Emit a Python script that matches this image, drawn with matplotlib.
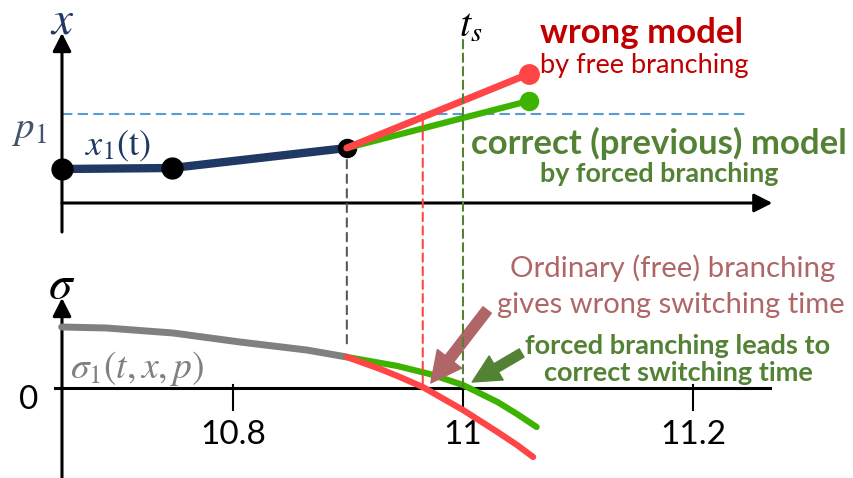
import matplotlib
matplotlib.use("Agg")
import matplotlib.pyplot as plt
from matplotlib.patches import ConnectionPatch

plt.rcParams['font.family'] = ['Lato', 'DejaVu Sans']
plt.rcParams['mathtext.fontset'] = 'stix'

# state x1(t) before the switch, and the two branches after it
t_x1 = [10.651, 10.747, 10.899]
x1 = [0.34, 0.35, 0.55]
t_branch = [10.899, 11.057]
x_wrong = [0.55, 1.29]
x_correct = [0.55, 1.02]
p1 = 0.89

# switching function sigma1 and its two continuations
t_sig = [10.651, 10.690, 10.748, 10.806, 10.864, 10.899]
sig1 = [0.61, 0.60, 0.55, 0.46, 0.38, 0.31]
t_sig_correct = [10.899, 10.943, 10.971, 11.000, 11.030, 11.047, 11.064]
sig_correct = [0.31, 0.22, 0.14, 0.03, -0.14, -0.26, -0.39]
t_sig_wrong = [10.899, 10.928, 10.943, 10.965, 11.000, 11.030, 11.047, 11.061]
sig_wrong = [0.31, 0.19, 0.12, 0.01, -0.22, -0.44, -0.57, -0.69]

t_branch_pt = 10.899
t_wrong_switch = 10.965
t_s = 11.0
ticks = [10.8, 11.0, 11.2]
tick_labels = ['10.8', '11', '11.2']

NAVY = '#203864'
RED = '#FF4545'
GREEN = '#3DB300'
DKGREEN = '#548235'
DKRED = '#C00000'
ROSE = '#B06666'
GREY = '#808080'

t0, t1 = 10.5974, 11.3400
t_axis = 10.6513

fig = plt.figure(figsize=(8.54, 4.78), dpi=100)
ax_top = fig.add_axes([0, 238 / 478, 1, 240 / 478])
ax_bot = fig.add_axes([0, 0, 1, 238 / 478])
ax_top.set_xlim(t0, t1)
ax_top.set_ylim(-0.37, 2.03)
ax_bot.set_xlim(t0, t1)
ax_bot.set_ylim(-0.90, 1.48)
for ax in (ax_top, ax_bot):
    ax.axis('off')

axis_arrow = dict(arrowstyle='-|>,head_length=0.55,head_width=0.28',
                  color='black', lw=2.2, shrinkA=0, shrinkB=0, mutation_scale=20)

# ---- top panel: x(t)
ax_top.annotate('', xy=(t_axis, 1.70), xytext=(t_axis, -0.29), arrowprops=axis_arrow)
ax_top.annotate('', xy=(11.269, 0), xytext=(t_axis, 0), arrowprops=axis_arrow)
ax_top.plot([t_axis, 11.245], [p1, p1], color='#5B9BD5', lw=1.5, dashes=(5, 2.5))

ax_top.plot(t_x1, x1, color=NAVY, lw=6, zorder=3)
ax_top.plot(t_x1[:2], x1[:2], 'o', color='black', ms=15, zorder=4)
ax_top.plot(t_x1[2], x1[2], 'o', color='black', ms=13, zorder=4)
ax_top.plot(t_branch, x_correct, color=GREEN, lw=4.5, solid_capstyle='round', zorder=5)
ax_top.plot(t_branch[1], x_correct[1], 'o', color=GREEN, ms=13, zorder=5)
ax_top.plot(t_branch, x_wrong, color=RED, lw=5, solid_capstyle='round', zorder=6)
ax_top.plot(t_branch[1], x_wrong[1], 'o', color=RED, ms=14, zorder=6)

ax_top.text(t_axis, 1.82, '$x$', color=NAVY, fontsize=34, ha='center', va='center')
ax_top.text(11.007, 1.78, '$t_s$', color='black', fontsize=29, ha='center', va='center')
ax_top.text(10.6235, 0.73, '$p_1$', color='#44546A', fontsize=28, ha='center', va='center')
ax_top.text(10.700, 0.57, r'$x_1(\mathrm{t})$', color=NAVY, fontsize=26, ha='center', va='center')

ax_top.text(11.155, 1.70, 'wrong model', color=DKRED, fontsize=25, fontweight='bold',
            ha='center', va='center')
ax_top.text(11.158, 1.37, 'by free branching', color=DKRED, fontsize=19.5,
            ha='center', va='center')
ax_top.text(11.170, 0.60, 'correct (previous) model', color=DKGREEN, fontsize=25,
            fontweight='bold', ha='center', va='center')
ax_top.text(11.171, 0.29, 'by forced branching', color=DKGREEN, fontsize=19.4,
            fontweight='bold', ha='center', va='center')

# ---- bottom panel: sigma(t)
ax_bot.annotate('', xy=(t_axis, 0.90), xytext=(t_axis, -0.92), arrowprops=axis_arrow)
ax_bot.plot([10.645, 11.267], [0, 0], color='black', lw=2.2)
for tk, lab in zip(ticks, tick_labels):
    ax_bot.plot([tk, tk], [0.03, -0.22], color='black', lw=1.5)
    ax_bot.text(tk, -0.47, lab, fontsize=24, ha='center', va='center')
ax_bot.text(10.6226, -0.12, '0', fontsize=24, ha='center', va='center')

ax_bot.plot(t_sig, sig1, color=GREY, lw=5, solid_capstyle='round', zorder=3)
ax_bot.plot(t_sig_correct, sig_correct, color=GREEN, lw=4.5, solid_capstyle='round', zorder=4)
ax_bot.plot(t_sig_wrong, sig_wrong, color=RED, lw=4.5, solid_capstyle='round', zorder=5)

ax_bot.text(t_axis, 1.03, r'$\sigma$', fontsize=34, ha='center', va='center')
ax_bot.text(10.717, 0.20, r'$\sigma_1(t,x,p)$', color=GREY, fontsize=27,
            ha='center', va='center')

ax_bot.text(11.182, 1.20, 'Ordinary (free) branching', color=ROSE, fontsize=21.2,
            ha='center', va='center')
ax_bot.text(11.181, 0.83, 'gives wrong switching time', color=ROSE, fontsize=21,
            ha='center', va='center')
ax_bot.text(11.187, 0.42, 'forced branching leads to', color=DKGREEN, fontsize=19.5,
            fontweight='bold', ha='center', va='center')
ax_bot.text(11.187, 0.15, 'correct switching time', color=DKGREEN, fontsize=19.5,
            fontweight='bold', ha='center', va='center')

ax_bot.annotate('', xy=(10.972, 0.05), xytext=(11.021, 0.78),
                arrowprops=dict(arrowstyle='simple,head_length=1.1,head_width=1.1,tail_width=0.38',
                                color=ROSE, shrinkA=0, shrinkB=0, mutation_scale=20), zorder=7)
ax_bot.annotate('', xy=(11.008, 0.06), xytext=(11.051, 0.35),
                arrowprops=dict(arrowstyle='simple,head_length=1.0,head_width=1.0,tail_width=0.34',
                                color=DKGREEN, shrinkA=0, shrinkB=0, mutation_scale=20), zorder=7)

# ---- dashed guides running through both panels
guides = [(t_branch_pt, 0.43, 0.40, '#595959', (4, 3)),
          (t_wrong_switch, 0.85, 0.03, RED, (4, 2.5)),
          (t_s, 1.63, 0.0, DKGREEN, (4, 2.5))]
for t, ya, yb, c, d in guides:
    con = ConnectionPatch(xyA=(t, ya), coordsA=ax_top.transData,
                          xyB=(t, yb), coordsB=ax_bot.transData,
                          color=c, lw=1.5, linestyle=(0, d), zorder=2)
    fig.add_artist(con)

fig.savefig('out.png', dpi=100)
